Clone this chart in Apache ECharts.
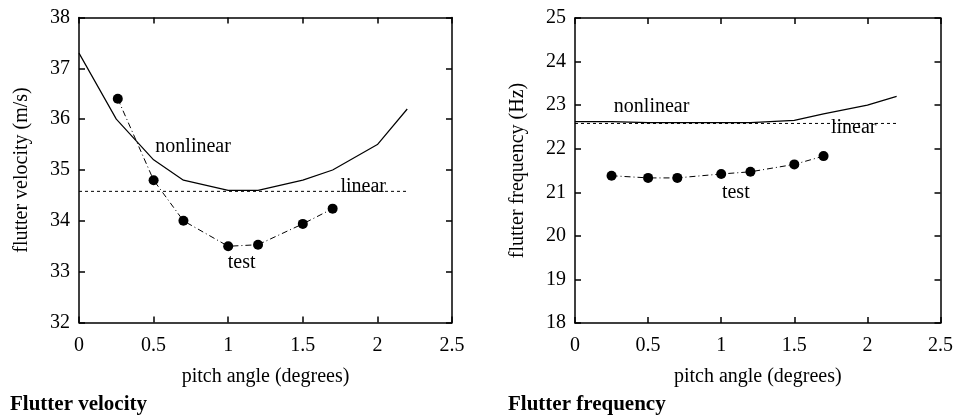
<!DOCTYPE html>
<html><head><meta charset="utf-8">
<script src="https://cdn.jsdelivr.net/npm/echarts@6/dist/echarts.min.js"></script>
<style>html,body{margin:0;padding:0;background:#fff}#c{width:956px;height:417px}</style>
</head><body><div id="c"></div>
<script>
// Left chart: flutter velocity
const velNonlinX = [0, 0.25, 0.5, 0.7, 1.0, 1.2, 1.5, 1.7, 2.0, 2.2];
const velNonlinY = [37.3, 36.0, 35.2, 34.8, 34.6, 34.6, 34.8, 35.0, 35.5, 36.2];
const velLinearX = [0, 2.2];
const velLinearY = [34.58, 34.58];
const velTestX = [0.26, 0.5, 0.7, 1.0, 1.2, 1.5, 1.7];
const velTestY = [36.4, 34.8, 34.0, 33.5, 33.53, 33.94, 34.24];
// Right chart: flutter frequency
const freqNonlinX = [0, 0.25, 0.5, 0.7, 1.0, 1.2, 1.5, 1.7, 2.0, 2.2];
const freqNonlinY = [22.62, 22.62, 22.6, 22.6, 22.6, 22.6, 22.65, 22.8, 23.0, 23.2];
const freqLinearX = [0, 2.2];
const freqLinearY = [22.58, 22.58];
const freqTestX = [0.25, 0.5, 0.7, 1.0, 1.2, 1.5, 1.7];
const freqTestY = [21.38, 21.33, 21.33, 21.42, 21.47, 21.64, 21.83];
// Tick settings
const xMin = 0, xMax = 2.5, xStep = 0.5;
const velMin = 32, velMax = 38, freqMin = 18, freqMax = 25;
// Annotations [x, y, text]
const velNotes = [[0.765, 35.45, 'nonlinear'], [1.905, 34.67, 'linear'], [1.09, 33.17, 'test']];
const freqNotes = [[0.524, 22.96, 'nonlinear'], [1.906, 22.48, 'linear'], [1.10, 20.98, 'test']];

const zip = (a, b) => a.map((v, i) => [v, b[i]]);
const FONT = '"Liberation Serif", "Times New Roman", serif';
const FS = 20;
const black = '#000';

function xAxes(gi, name) {
  return [
    { type: 'value', gridIndex: gi, min: xMin, max: xMax, interval: xStep, position: 'bottom',
      name: name, nameLocation: 'middle', nameGap: 44,
      nameTextStyle: { fontFamily: FONT, fontSize: FS, color: black },
      axisLine: { show: true, onZero: false, lineStyle: { color: black, width: 1.5 } },
      axisTick: { inside: true, length: 6, lineStyle: { color: black, width: 1.5 } },
      axisLabel: { fontFamily: FONT, fontSize: FS, color: black, margin: 13, showMaxLabel: true, showMinLabel: true },
      splitLine: { show: false } },
    { type: 'value', gridIndex: gi, min: xMin, max: xMax, interval: xStep, position: 'top',
      axisLine: { show: true, onZero: false, lineStyle: { color: black, width: 1.5 } },
      axisTick: { inside: true, length: 6, lineStyle: { color: black, width: 1.5 } },
      axisLabel: { show: false }, splitLine: { show: false } }
  ];
}
function yAxes(gi, min, max, name) {
  return [
    { type: 'value', gridIndex: gi, min: min, max: max, interval: 1, position: 'left',
      name: name, nameLocation: 'middle', nameGap: 47, nameRotate: 90,
      nameTextStyle: { fontFamily: FONT, fontSize: FS, color: black },
      axisLine: { show: true, onZero: false, lineStyle: { color: black, width: 1.5 } },
      axisTick: { inside: true, length: 6, lineStyle: { color: black, width: 1.5 } },
      axisLabel: { fontFamily: FONT, fontSize: FS, color: black, margin: 9 },
      splitLine: { show: false } },
    { type: 'value', gridIndex: gi, min: min, max: max, interval: 1, position: 'right',
      axisLine: { show: true, onZero: false, lineStyle: { color: black, width: 1.5 } },
      axisTick: { inside: true, length: 6, lineStyle: { color: black, width: 1.5 } },
      axisLabel: { show: false }, splitLine: { show: false } }
  ];
}
function seriesFor(gi, nx, ny, lx, ly, tx, ty, notes) {
  const xi = gi * 2, yi = gi * 2;
  return [
    { type: 'line', xAxisIndex: xi, yAxisIndex: yi, data: zip(nx, ny), symbol: 'none',
      lineStyle: { color: black, width: 1.2 }, silent: true },
    { type: 'line', xAxisIndex: xi, yAxisIndex: yi, data: zip(lx, ly), symbol: 'none',
      lineStyle: { color: black, width: 1, type: [3, 3] }, silent: true },
    { type: 'line', xAxisIndex: xi, yAxisIndex: yi, data: zip(tx, ty), symbol: 'circle', symbolSize: 10,
      itemStyle: { color: black }, lineStyle: { color: black, width: 1, type: [6, 3, 1, 3] }, silent: true },
    { type: 'scatter', xAxisIndex: xi, yAxisIndex: yi, symbolSize: 1,
      itemStyle: { color: 'rgba(0,0,0,0)' },
      data: notes.map(n => ({ value: [n[0], n[1]], name: n[2] })),
      label: { show: true, position: 'inside', formatter: '{b}', fontFamily: FONT, fontSize: FS,
        color: '#000', opacity: 1, textBorderWidth: 0, textShadowBlur: 0 },
      silent: true }
  ];
}

const chart = echarts.init(document.getElementById('c'), null, { renderer: 'canvas' });
chart.setOption({
  animation: false,
  backgroundColor: '#fff',
  grid: [
    { left: 79, top: 17.5, width: 373, height: 305, containLabel: false },
    { left: 575, top: 18, width: 367, height: 305, containLabel: false }
  ],
  xAxis: [...xAxes(0, 'pitch angle (degrees)'), ...xAxes(1, 'pitch angle (degrees)')],
  yAxis: [...yAxes(0, velMin, velMax, 'flutter velocity (m/s)'), ...yAxes(1, freqMin, freqMax, 'flutter frequency (Hz)')],
  series: [
    ...seriesFor(0, velNonlinX, velNonlinY, velLinearX, velLinearY, velTestX, velTestY, velNotes),
    ...seriesFor(1, freqNonlinX, freqNonlinY, freqLinearX, freqLinearY, freqTestX, freqTestY, freqNotes)
  ],
  title: [
    { text: 'Flutter velocity', left: 10, top: 394, padding: 0,
      textStyle: { fontFamily: FONT, fontSize: 21, fontWeight: 'bold', color: black } },
    { text: 'Flutter frequency', left: 508, top: 394, padding: 0,
      textStyle: { fontFamily: FONT, fontSize: 21, fontWeight: 'bold', color: black } }
  ]
});
</script></body></html>
